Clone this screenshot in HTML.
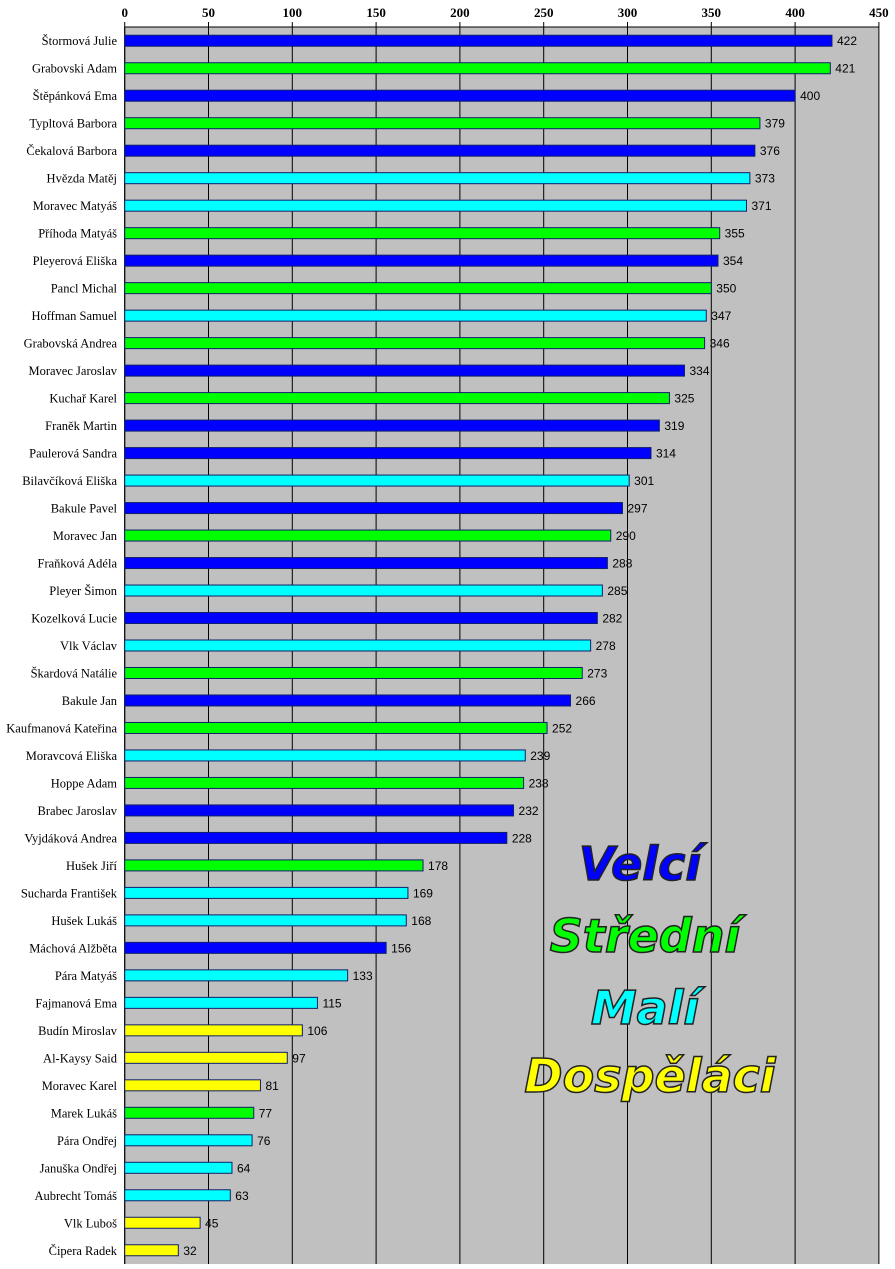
<!DOCTYPE html>
<html><head><meta charset="utf-8"><style>
body{margin:0;background:#fff;}
svg{display:block;}
.lg{font-family:"DejaVu Sans",sans-serif;font-weight:bold;font-style:italic;font-size:46px;stroke:#222;stroke-width:1.5px;text-anchor:middle;}
</style></head><body>
<svg id="chart" width="895" height="1269" xmlns="http://www.w3.org/2000/svg">
<rect x="124.7" y="27" width="754.2" height="1237" fill="#c0c0c0"/>
<g id="grid"></g><g id="bars"></g><g id="labels"></g>
<text class="lg" x="640" y="880" fill="#0000ff">Velcí</text>
<text class="lg" x="645" y="952" fill="#00ff00">Střední</text>
<text class="lg" x="645" y="1024" fill="#00ffff">Malí</text>
<text class="lg" x="650" y="1092" fill="#ffff00">Dospěláci</text>
</svg>
<script>
const names=["Štormová Julie","Grabovski Adam","Štěpánková Ema","Typltová Barbora","Čekalová Barbora","Hvězda Matěj","Moravec Matyáš","Příhoda Matyáš","Pleyerová Eliška","Pancl Michal","Hoffman Samuel","Grabovská Andrea","Moravec Jaroslav","Kuchař Karel","Franěk Martin","Paulerová Sandra","Bilavčíková Eliška","Bakule Pavel","Moravec Jan","Fraňková Adéla","Pleyer Šimon","Kozelková Lucie","Vlk Václav","Škardová Natálie","Bakule Jan","Kaufmanová Kateřina","Moravcová Eliška","Hoppe Adam","Brabec Jaroslav","Vyjdáková Andrea","Hušek Jiří","Sucharda František","Hušek Lukáš","Máchová Alžběta","Pára Matyáš","Fajmanová Ema","Budín Miroslav","Al-Kaysy Said","Moravec Karel","Marek Lukáš","Pára Ondřej","Januška Ondřej","Aubrecht Tomáš","Vlk Luboš","Čipera Radek"];
const values=[422,421,400,379,376,373,371,355,354,350,347,346,334,325,319,314,301,297,290,288,285,282,278,273,266,252,239,238,232,228,178,169,168,156,133,115,106,97,81,77,76,64,63,45,32];
const groups=["B","G","B","G","B","C","C","G","B","G","C","G","B","G","B","B","C","B","G","B","C","B","C","G","B","G","C","G","B","B","G","C","C","B","C","C","Y","Y","Y","G","C","C","C","Y","Y"];
const ticks=[0,50,100,150,200,250,300,350,400,450];
const colors={B:"#0000ff",G:"#00ff00",C:"#00ffff",Y:"#ffff00"};
const NS="http://www.w3.org/2000/svg";
const x0=124.7,x1=878.9,y0=27,y1=1264,xmax=450;
const X=v=>x0+v/xmax*(x1-x0);
const band=(y1-y0)/names.length;
const Y=i=>y0+band*(i+0.5);
const grid=document.getElementById('grid'),bars=document.getElementById('bars'),labels=document.getElementById('labels');
function mk(tag,attrs,parent){const e=document.createElementNS(NS,tag);for(const k in attrs)e.setAttribute(k,attrs[k]);parent.appendChild(e);return e;}
ticks.forEach(t=>{
  const l=mk('line',{x1:X(t),x2:X(t),y1:y0,y2:y1,stroke:'#000','stroke-width':1},grid);
  
  
  const tk=mk('line',{x1:X(t),x2:X(t),y1:y0-5,y2:y0,stroke:'#000'},grid);
  
  
  const tx=mk('text',{x:X(t),y:17,'text-anchor':'middle','font-family':'Liberation Serif, serif','font-weight':'bold','font-size':'13'},labels);
  tx.textContent=t;
  
  
});
mk('line',{x1:x0,x2:x1,y1:y0,y2:y0,stroke:'#000'},grid);
mk('line',{x1:x0,x2:x0,y1:y0,y2:y1,stroke:'#000'},grid);
names.forEach((n,i)=>{
  const cy=Y(i);
  const r=mk('rect',{x:X(0),y:cy-5.5,width:X(values[i])-X(0),height:11,fill:colors[groups[i]],stroke:'#10206a','stroke-width':1},bars);
  
  
  const v=mk('text',{x:X(values[i])+5,y:cy+4.5,'font-family':'Liberation Sans, sans-serif','font-size':'12',fill:'#000'},labels);
  v.textContent=values[i];
  
  
  const c=mk('text',{x:117,y:cy+4.5,'text-anchor':'end','font-family':'Liberation Serif, serif','font-size':'12.5',fill:'#000'},labels);
  c.textContent=n;
  
  
});
</script>
</body></html>
